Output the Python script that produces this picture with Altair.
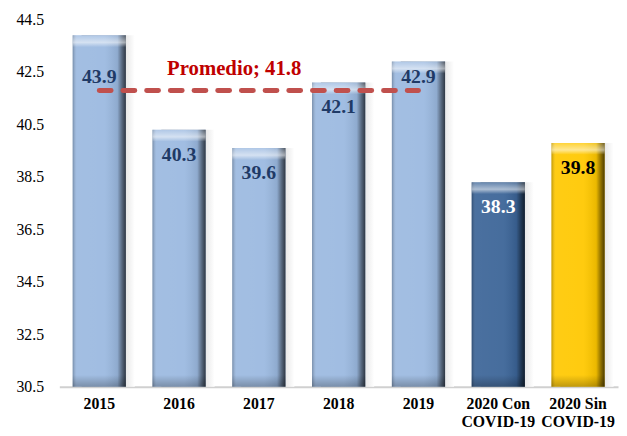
import altair as alt
import pandas as pd

# ---- data ----
categories = ["2015", "2016", "2017", "2018", "2019", "2020 Con|COVID-19", "2020 Sin|COVID-19"]
values = [43.9, 40.3, 39.6, 42.1, 42.9, 38.3, 39.8]
groups = ["hist", "hist", "hist", "hist", "hist", "con", "sin"]
label_colors = ["#1F3A66", "#1F3A66", "#1F3A66", "#1F3A66", "#1F3A66", "#FFFFFF", "#000000"]
avg_value = 41.8
avg_categories = ["2015", "2016", "2017", "2018", "2019"]
y_ticks = [30.5, 32.5, 34.5, 36.5, 38.5, 40.5, 42.5, 44.5]
y_min, y_max = 30.5, 44.5

df = pd.DataFrame({"cat": categories, "value": values, "group": groups, "lc": label_colors})
df["base"] = y_min
df["bevel"] = df["value"] - 0.45
df["bbevel"] = y_min + 0.45
avg_df = pd.DataFrame({"cat": avg_categories, "avg": [avg_value] * len(avg_categories)})

FONT = "Liberation Serif"

xscale = alt.Scale(domain=categories, paddingInner=0.333, paddingOuter=0.167)
yscale = alt.Scale(domain=[y_min, y_max], zero=False, nice=False)

x_enc = alt.X("cat:N", scale=xscale, sort=categories, title=None,
              axis=alt.Axis(labelExpr="split(datum.value, '|')", labelAngle=0,
                            labelFont=FONT, labelFontSize=16, labelFontWeight="bold",
                            labelColor="black", labelPadding=9, ticks=False,
                            domainColor="#D0D0D0", domainWidth=2, labelLineHeight=18))
y_enc = alt.Y("value:Q", scale=yscale, title=None,
              axis=alt.Axis(values=y_ticks, format=".1f", labelFont=FONT, labelFontSize=16,
                            labelColor="black", domain=False, ticks=False, grid=False,
                            labelPadding=16))

base = alt.Chart(df)

shadow = base.mark_bar(
    xOffset=9,
    color=alt.Gradient(gradient="linear", x1=0, x2=1, y1=0, y2=0,
                       stops=[alt.GradientStop(color="#9a9a9a", offset=0),
                              alt.GradientStop(color="#c8c8c8", offset=0.6),
                              alt.GradientStop(color="#ffffff", offset=1)])
).encode(x=x_enc, y=y_enc, y2="base:Q")

main = base.mark_bar().encode(
    x=x_enc, y=y_enc, y2="base:Q",
    color=alt.Color("group:N", legend=None,
                    scale=alt.Scale(domain=["hist", "con", "sin"],
                                    range=["#9BB9E0", "#3B6497", "#FFC800"]))
)

shade = base.mark_bar(
    color=alt.Gradient(gradient="linear", x1=0, x2=1, y1=0, y2=0,
                       stops=[alt.GradientStop(color="rgba(0,0,0,0.25)", offset=0),
                              alt.GradientStop(color="rgba(255,255,255,0.08)", offset=0.08),
                              alt.GradientStop(color="rgba(255,255,255,0.06)", offset=0.6),
                              alt.GradientStop(color="rgba(0,0,0,0.08)", offset=0.84),
                              alt.GradientStop(color="rgba(0,0,0,0.45)", offset=0.93),
                              alt.GradientStop(color="rgba(0,0,0,0.7)", offset=1)])
).encode(x=x_enc, y=y_enc, y2="base:Q")

top_bevel = base.mark_bar(
    color=alt.Gradient(gradient="linear", x1=0, x2=0, y1=0, y2=1,
                       stops=[alt.GradientStop(color="rgba(255,255,255,0.15)", offset=0),
                              alt.GradientStop(color="rgba(255,255,255,0.55)", offset=0.6),
                              alt.GradientStop(color="rgba(255,255,255,0)", offset=1)])
).encode(x=x_enc, y=y_enc, y2="bevel:Q")

bottom_bevel = base.mark_bar(
    color=alt.Gradient(gradient="linear", x1=0, x2=0, y1=0, y2=1,
                       stops=[alt.GradientStop(color="rgba(0,0,0,0)", offset=0),
                              alt.GradientStop(color="rgba(0,0,0,0.25)", offset=1)])
).encode(x=x_enc, y=alt.Y("bbevel:Q", scale=yscale), y2="base:Q")

# labels sit just inside the bar top, or just above the average line when the bar rises well above it
labels = base.transform_calculate(
    lpos=f"(datum.value - {avg_value} > 0.9) ? {avg_value} + 0.5 : datum.value - 0.95"
).mark_text(
    baseline="middle", align="center", font=FONT, fontSize=20, fontWeight="bold"
).encode(
    x=x_enc, y=alt.Y("lpos:Q", scale=yscale), text=alt.Text("value:Q", format=".1f"),
    color=alt.Color("lc:N", scale=None, legend=None)
)

avg_line = alt.Chart(avg_df).mark_line(
    color="#C0504D", strokeWidth=5, strokeDash=[12, 12], strokeCap="round"
).encode(x=alt.X("cat:N", scale=xscale, sort=categories), y=alt.Y("avg:Q", scale=yscale))

avg_text = alt.Chart(pd.DataFrame({"avg": [avg_value]})).transform_calculate(
    label="'Promedio; ' + format(datum.avg, '.1f')"
).mark_text(
    align="left", baseline="middle", dx=-93, dy=-22, font=FONT, fontSize=21,
    fontWeight="bold", color="#C00000"
).encode(x=alt.datum("2017", scale=xscale), y=alt.Y("avg:Q", scale=yscale), text="label:N")

chart = alt.layer(shadow, main, shade, top_bevel, bottom_bevel, labels, avg_line, avg_text).properties(
    width=566, height=372, autosize="none",
    padding={"left": 52, "top": 9, "right": 1, "bottom": 40},
    background="white"
).configure_view(stroke=None)

chart.save("out.html", embed_options={"renderer": "svg", "actions": False})
